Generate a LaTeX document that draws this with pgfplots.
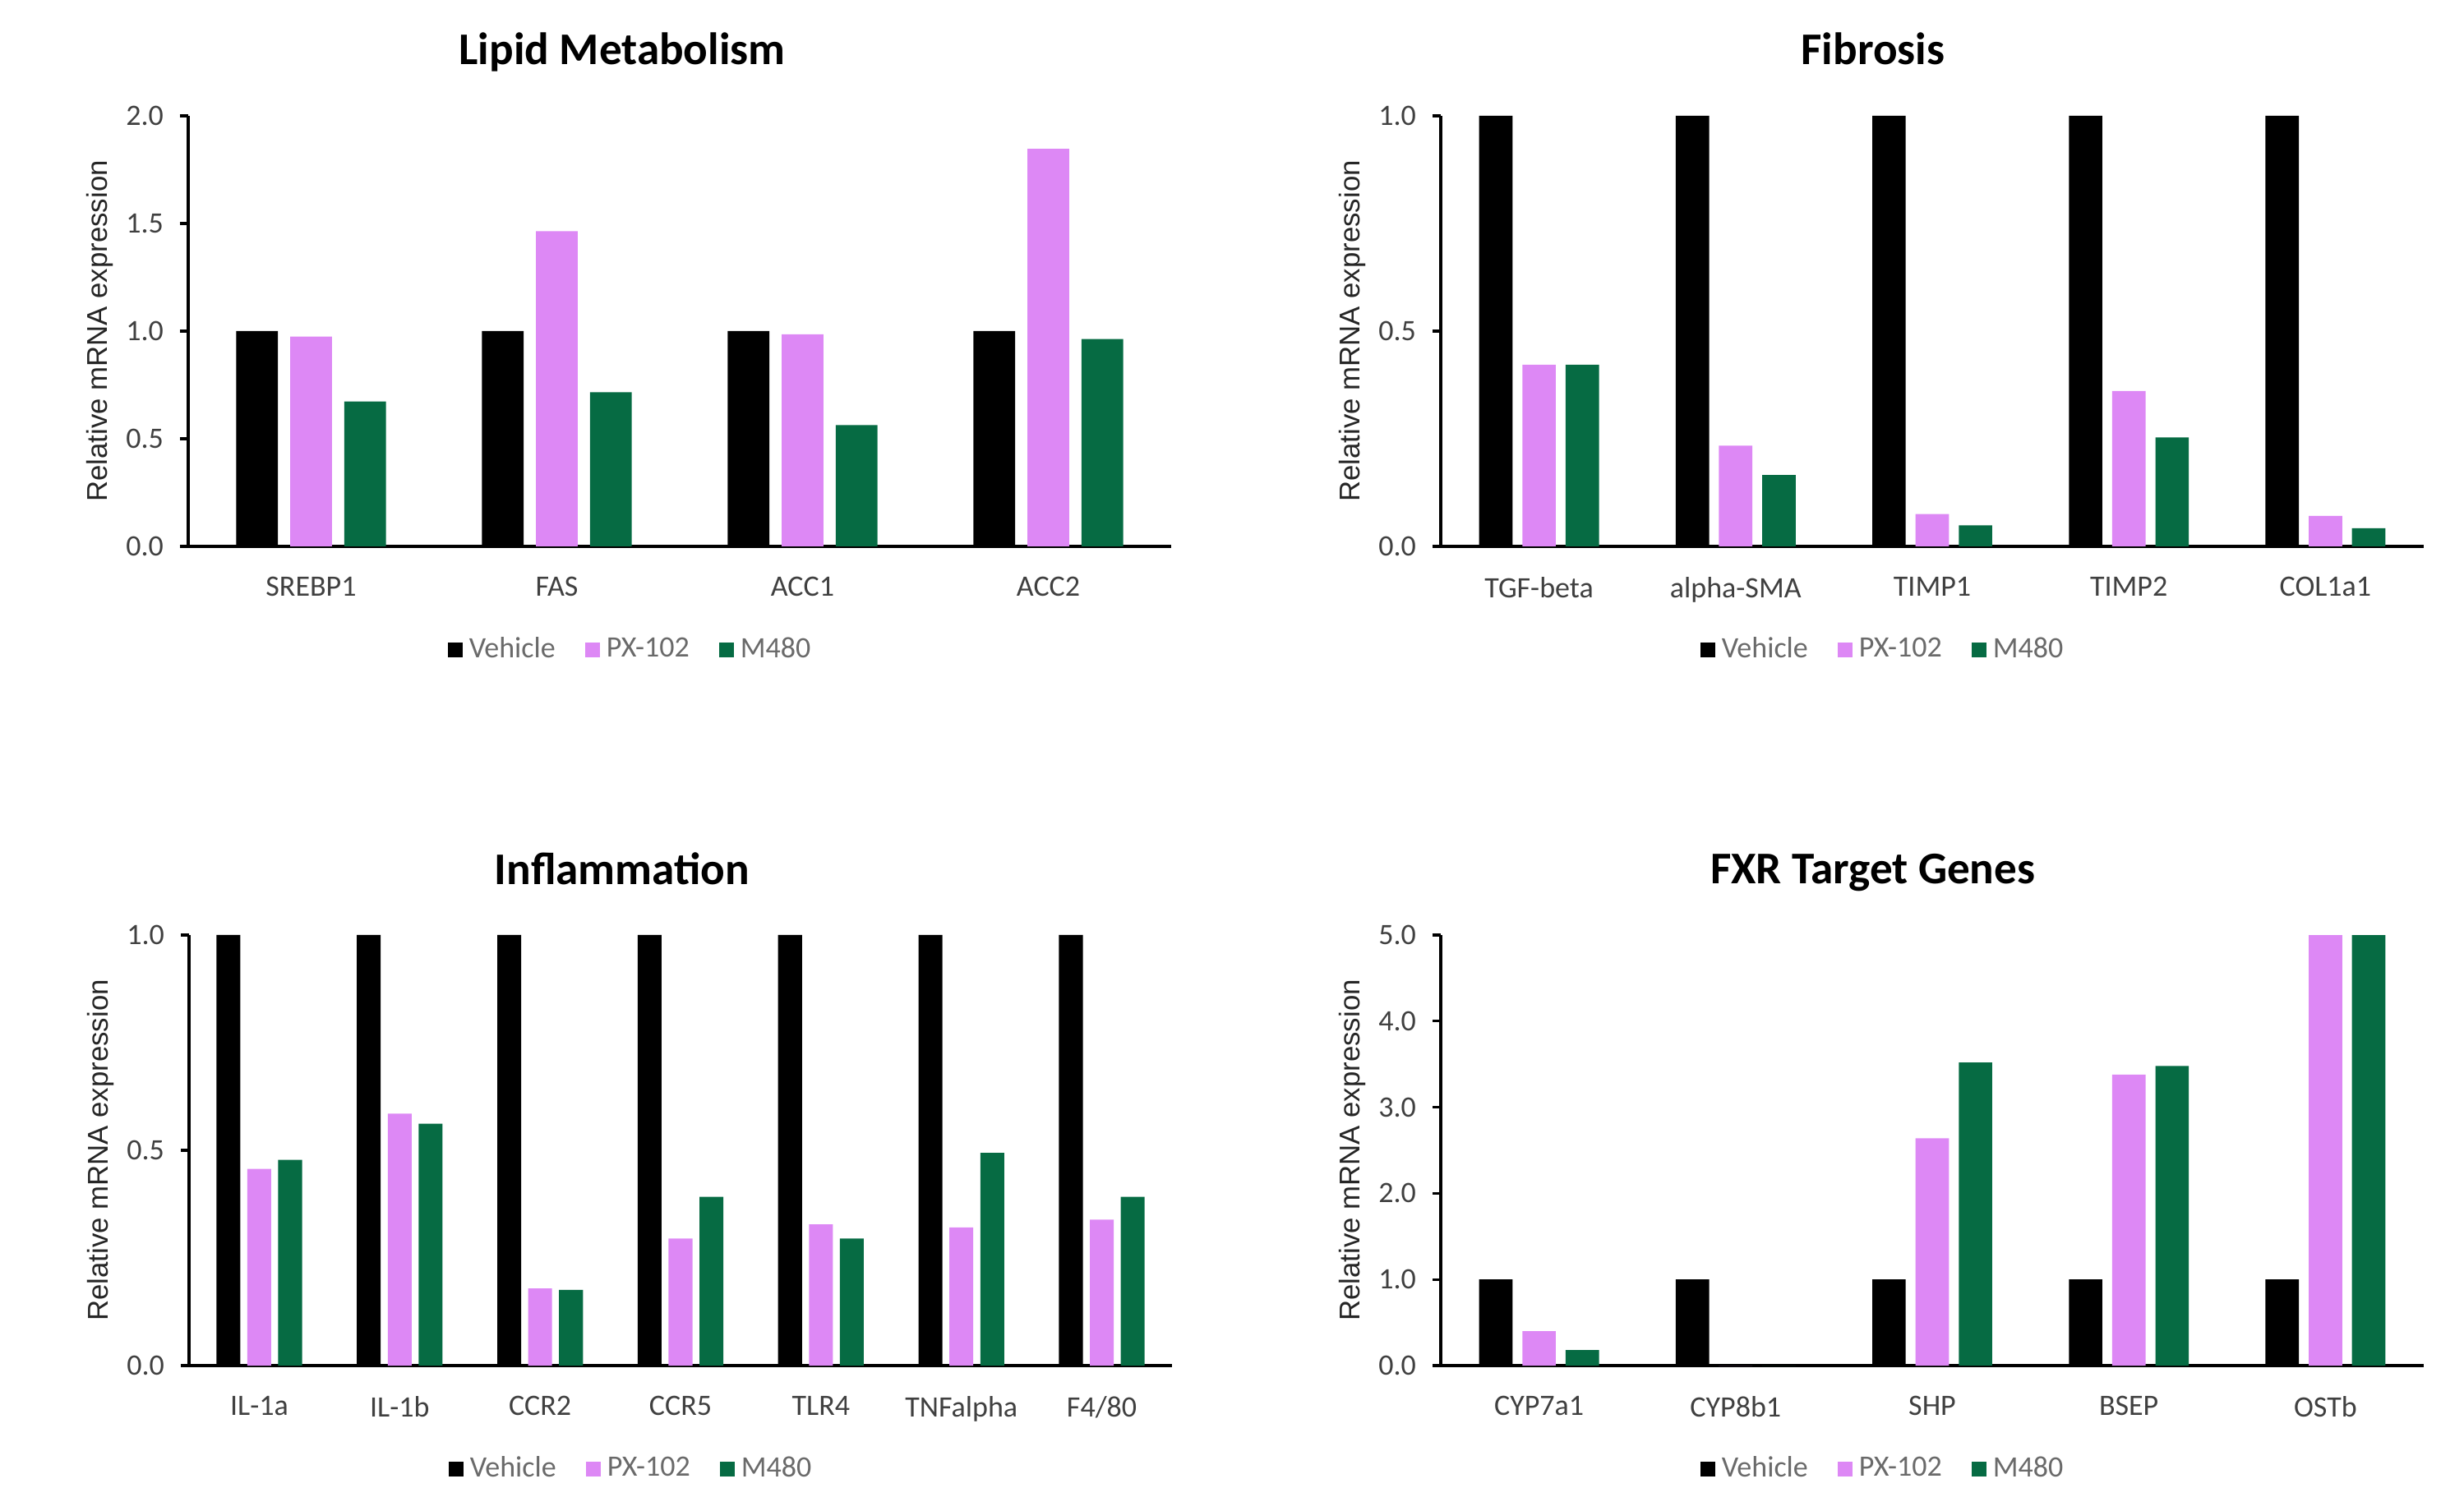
\documentclass[border=0pt]{standalone}
\usepackage{fontspec}
\setmainfont{Carlito}
\newfontfamily\labelfont{Liberation Sans}
\usepackage{pgfplots}
\pgfplotsset{compat=1.18}
\definecolor{pxpink}{HTML}{DD88F5}
\definecolor{mgreen}{HTML}{066B43}
\definecolor{ticktext}{HTML}{404040}
\definecolor{legtext}{HTML}{6A6A6A}
\pgfplotsset{
  panel/.style={
    scale only axis,
    width=299pt, height=131pt,
    ybar, bar width=0.17,
    axis x line=bottom, axis y line=left,
    axis line style={-, line width=1pt, black},
    xtick=data,
    major x tick style={draw=none},
    ytick align=outside,
    major tick length=2.5pt,
    every tick/.style={black, line width=0.8pt},
    ymin=0,
    enlarge y limits=false,
    tick label style={font=\fontsize{9}{10}\selectfont, text=ticktext},
    xticklabel style={yshift=-4.5pt, text depth=0pt},
    yticklabel style={xshift=-1.5pt},
    /pgf/number format/assume math mode=true,
    yticklabel={\pgfmathprintnumber[fixed,fixed zerofill,precision=1]{\tick}},
    ylabel={Relative mRNA expression},
    ylabel style={at={(axis description cs:-0.09,0.5)}, anchor=center, rotate=0, font=\labelfont\fontsize{8.7}{10}\selectfont, text=black!85},
    legend columns=3,
    legend style={at={(0.452,-0.24)}, anchor=center, draw=none, fill=none,
      font=\fontsize{9}{10}\selectfont, text=legtext,
      /tikz/every even column/.append style={column sep=7pt},
      inner sep=0pt},
    legend image code/.code={\fill (0pt,-2.3pt) rectangle (4.5pt,2.3pt);},
  },
  vehicle/.style={fill=black, draw=none, bar shift=-0.22},
  px/.style={fill=pxpink, draw=none, bar shift=0},
  mg/.style={fill=mgreen, draw=none, bar shift=0.22},
}
\begin{document}
\begin{tikzpicture}
\useasboundingbox (0,0) rectangle (749.5pt,452.5pt);
% Lipid Metabolism
\begin{axis}[panel, at={(57.25pt,286.25pt)}, anchor=south west,
  xmin=-0.5, xmax=3.5, ymax=2.0, ytick={0,0.5,1.0,1.5,2.0},
  xticklabels={SREBP1,FAS,ACC1,ACC2}]
\addplot[vehicle] coordinates {(0,1.0) (1,1.0) (2,1.0) (3,1.0)};
\addplot[px] coordinates {(0,0.975) (1,1.464) (2,0.985) (3,1.847)};
\addplot[mg] coordinates {(0,0.673) (1,0.716) (2,0.563) (3,0.963)};
\legend{Vehicle,PX-102,M480}
\end{axis}
% Fibrosis
\begin{axis}[panel, at={(438.25pt,286.25pt)}, anchor=south west,
  xmin=-0.5, xmax=4.5, ymax=1.0, ytick={0,0.5,1.0},
  xticklabels={TGF-beta,alpha-SMA,TIMP1,TIMP2,COL1a1}]
\addplot[vehicle] coordinates {(0,1.0) (1,1.0) (2,1.0) (3,1.0) (4,1.0)};
\addplot[px] coordinates {(0,0.422) (1,0.234) (2,0.075) (3,0.361) (4,0.071)};
\addplot[mg] coordinates {(0,0.422) (1,0.166) (2,0.049) (3,0.253) (4,0.042)};
\legend{Vehicle,PX-102,M480}
\end{axis}
% Inflammation
\begin{axis}[panel, at={(57.5pt,37pt)}, anchor=south west,
  xmin=-0.5, xmax=6.5, ymax=1.0, ytick={0,0.5,1.0},
  xticklabels={IL-1a,IL-1b,CCR2,CCR5,TLR4,TNFalpha,F4/80}]
\addplot[vehicle] coordinates {(0,1.0) (1,1.0) (2,1.0) (3,1.0) (4,1.0) (5,1.0) (6,1.0)};
\addplot[px] coordinates {(0,0.457) (1,0.585) (2,0.179) (3,0.295) (4,0.328) (5,0.321) (6,0.339)};
\addplot[mg] coordinates {(0,0.478) (1,0.562) (2,0.176) (3,0.392) (4,0.295) (5,0.494) (6,0.392)};
\legend{Vehicle,PX-102,M480}
\end{axis}
% FXR Target Genes
\begin{axis}[panel, at={(438.25pt,37pt)}, anchor=south west,
  xmin=-0.5, xmax=4.5, ymax=5.0, ytick={0,1,2,3,4,5},
  xticklabels={CYP7a1,CYP8b1,SHP,BSEP,OSTb}]
\addplot[vehicle] coordinates {(0,1.0) (1,1.0) (2,1.0) (3,1.0) (4,1.0)};
\addplot[px] coordinates {(0,0.40) (1,0) (2,2.64) (3,3.38) (4,5.0)};
\addplot[mg] coordinates {(0,0.18) (1,0) (2,3.52) (3,3.48) (4,5.0)};
\legend{Vehicle,PX-102,M480}
\end{axis}
\tikzset{ttl/.style={font=\bfseries\fontsize{13.8}{16}\selectfont, text depth=0pt}}
\node[ttl] at (189.25pt,437.75pt) {Lipid Metabolism};
\node[ttl] at (569.75pt,437.75pt) {Fibrosis};
\node[ttl] at (189.25pt,188.25pt) {Inflammation};
\node[ttl] at (569.75pt,188.25pt) {FXR Target Genes};
\end{tikzpicture}
\end{document}
